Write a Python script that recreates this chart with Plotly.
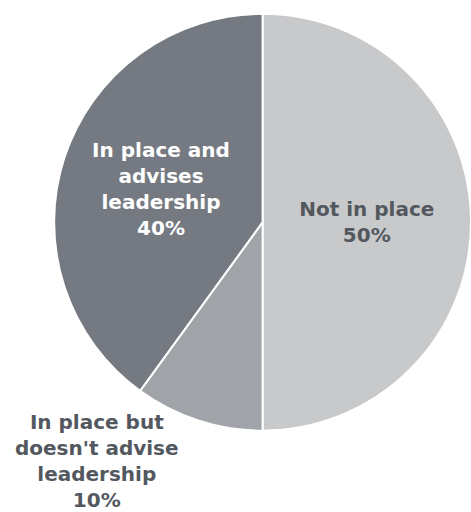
import plotly.graph_objects as go

labels = ["Not in place", "In place but doesn't advise leadership", "In place and advises leadership"]
display = ["Not in place", "In place but<br>doesn't advise<br>leadership", "In place and<br>advises<br>leadership"]
values = [50, 10, 40]
colors = ["#c8c9cb", "#a0a3a7", "#757a82"]
text_colors = ["#53585f", "#53585f", "#ffffff"]
positions = ["inside", "none", "inside"]

FONT = "DejaVu Sans"
SIZE = 20

fig = go.Figure(go.Pie(
    labels=labels,
    values=values,
    text=display,
    sort=False,
    direction="clockwise",
    rotation=0,
    marker=dict(colors=colors, line=dict(color="#ffffff", width=2)),
    texttemplate="<b>%{text}<br>%{percent:.0%}</b>",
    textposition=positions,
    insidetextorientation="horizontal",
    textfont=dict(family=FONT, size=SIZE, color=text_colors),
    hoverinfo="skip",
    domain=dict(x=[0.115, 1.0], y=[0.155, 0.977]),
    showlegend=False,
))

# outside label for the small slice
total = sum(values)
i = 1
fig.add_annotation(
    text="<b>%s<br>%d%%</b>" % (display[i], round(values[i] / total * 100)),
    x=0.206, y=0.10, xref="paper", yref="paper",
    xanchor="center", yanchor="middle",
    showarrow=False,
    font=dict(family=FONT, size=SIZE, color=text_colors[i]),
)

fig.update_layout(
    width=471, height=512,
    margin=dict(l=0, r=0, t=0, b=0),
    paper_bgcolor="#ffffff",
    plot_bgcolor="#ffffff",
)

fig.write_html("out.html")
